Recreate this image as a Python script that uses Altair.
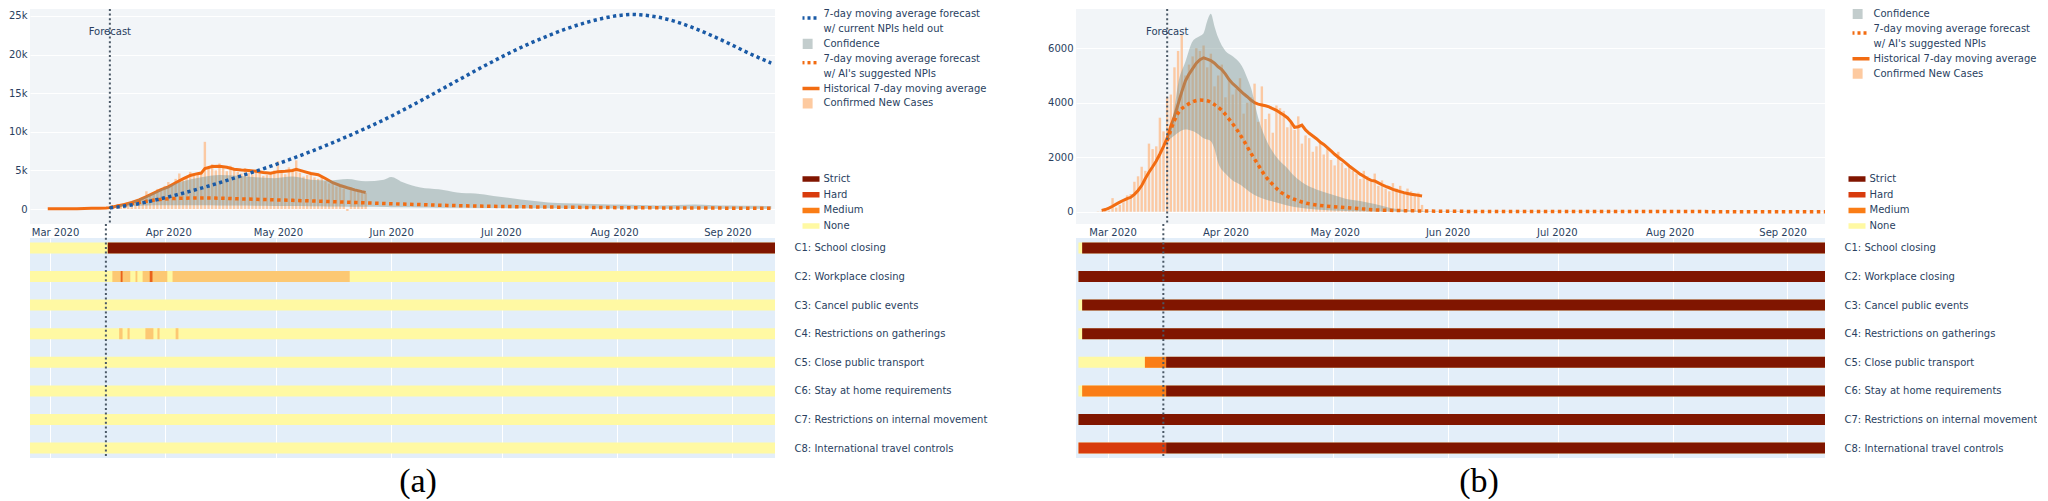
import altair as alt
import pandas as pd

FONT = "DejaVu Sans"
TXT = "#2a3f5f"
ORANGE = "#f26c12"
BLUE = "#1a5aa6"
BAND = "#7a9493"
PEACH = "#fdb987"
FC_COL = "#4a5866"
TOP_BG = "#f2f5f8"
HEAT_BG = "#e3eef9"

TOP_H = 215
HEAT_H = 220
GAP = 14

BASE = pd.Timestamp("2020-03-01")   # day 0
FORECAST_DAY = 15                   # 2020-03-16

# ---------------- panel (a) ----------------
a_bar_first = "2020-03-15"
a_bar_vals = [150, 250, 300, 450, 500, 700, 650, 900, 1100, 1300, 1500, 2300, 1800, 2100,
              2600, 2400, 3000, 3500, 3200, 3900, 4600, 3700, 4100, 4800, 4300, 4500, 4600,
              8700, 5400, 5800, 5000, 5900, 5300, 4900, 5600, 5200, 4800, 4600, 5300, 4700,
              4500, 5100, 4900, 4300, 4400, 4600, 5000, 6200, 4700, 4500, 5400, 5200, 6300,
              4700, 4200, 4400, 4800, 4100, 3900, 4200, 3600, 3300, 3500, 2900, 3100, 2600,
              -250, 2800, 2500, 2400, 2300, 2100]
a_ma_days = [-2, 0, 2, 4, 6, 8, 10, 12, 14, 15, 17, 19, 21, 23, 25, 27, 29, 31, 33, 35, 37,
             39, 40, 41, 43, 45, 47, 49, 51, 53, 55, 57, 59, 61, 63, 65, 66, 68, 70, 72, 74,
             76, 78, 80, 82, 84, 85]
a_ma_vals = [20, 25, 30, 40, 50, 70, 90, 110, 140, 180, 380, 600, 850, 1180, 1600, 2050,
             2500, 2880, 3400, 3900, 4350, 4580, 4650, 5250, 5500, 5550, 5400, 5150, 5060,
             5000, 4900, 4720, 4640, 4840, 4900, 5000, 5150, 4880, 4600, 4450, 3950, 3400,
             3050, 2750, 2480, 2250, 2150]
a_conf_days = [15, 20, 25, 30, 35, 40, 45, 50, 55, 60, 65, 70, 75, 80, 85, 90, 92, 95, 100,
               105, 110, 115, 120, 125, 130, 135, 140, 145, 150, 155, 160, 165, 170, 175,
               180, 185, 190, 196]
a_conf_hi = [200, 800, 1700, 2800, 3600, 4100, 4400, 4300, 4100, 4000, 4200, 3800, 3700,
             3900, 3600, 3800, 4150, 3500, 2800, 2550, 2150, 2000, 1700, 1400, 1100, 850,
             750, 680, 620, 580, 520, 450, 520, 600, 500, 450, 420, 400]
a_conf_lo = [150, 350, 450, 500, 500, 480, 460, 440, 420, 400, 380, 350, 330, 300, 280, 250,
             240, 220, 200, 180, 160, 140, 120, 110, 100, 90, 80, 70, 60, 55, 50, 45, 40,
             40, 35, 30, 30, 30]
a_ai_days = [15, 20, 25, 30, 35, 40, 45, 50, 55, 60, 65, 70, 75, 80, 85, 90, 95, 100, 105,
             110, 120, 130, 140, 150, 160, 170, 180, 196]
a_ai_vals = [180, 600, 1000, 1300, 1400, 1430, 1400, 1320, 1260, 1190, 1120, 1050, 970,
             880, 800, 720, 640, 570, 500, 440, 350, 280, 230, 190, 160, 140, 120, 100]
a_blue_days = [15, 20, 25, 30, 35, 40, 45, 50, 55, 60, 65, 70, 75, 80, 85, 90, 95, 100, 105,
               110, 115, 120, 125, 130, 135, 140, 145, 150, 155, 158, 160, 165, 170, 175,
               180, 185, 190, 196]
a_blue_vals = [150, 450, 900, 1450, 2050, 2700, 3400, 4150, 4900, 5700, 6550, 7450, 8400,
               9400, 10450, 11550, 12750, 14000, 15300, 16600, 17900, 19150, 20350, 21450,
               22450, 23350, 24100, 24700, 25100, 25200, 25150, 24850, 24250, 23400, 22400,
               21300, 20150, 18900]

# ---------------- panel (b) ----------------
b_bar_first = "2020-02-26"
b_bar_vals = [10, 20, 30, 40, 500, 150, 250, 350, 600, 650,
              1100, 1300, 1650, 1500, 2500, 2300, 2400, 3450, 2950, 4200,
              4300, 5300, 5900, 6500, 5000, 5400, 5700, 6000, 5900, 6100,
              5300, 5800, 4600, 5000, 5400, 4200, 4800, 4300, 4500, 4900,
              3600, 4000, 4200, 4700, 3300, 4600, 3400, 3600, 2900, 3900,
              3800, 3700, 3100, 3300, 3000, 3500, 2500, 2800, 2700, 2200,
              2400, 2600, 2100, 2300, 1900, 1700, 2200, 1800, 1600, 1700,
              1500, 1400, 1200, 1500, 1300, 1100, 1400, 950, 1150, 850,
              750, 1050, 850, 950, 650, 850, 750, 650, 700, 250]
b_ma_first = "2020-02-27"
b_ma_vals = [50, 80, 130, 200, 280, 350, 420, 480, 530, 640,
             780, 960, 1220, 1450, 1650, 1860, 2120, 2400, 2700, 3150,
             3500, 3950, 4400, 4800, 5050, 5250, 5450, 5580, 5650, 5600,
             5550, 5450, 5320, 5220, 5050, 4850, 4700, 4580, 4450, 4330,
             4220, 4100, 4000, 3950, 3920, 3890, 3850, 3780, 3720, 3630,
             3550, 3450, 3300, 3100, 3120, 3180, 3000, 2880, 2780, 2680,
             2560, 2470, 2350, 2230, 2110, 2000, 1900, 1790, 1680, 1580,
             1480, 1380, 1300, 1220, 1150, 1130, 1060, 990, 930, 880,
             820, 780, 740, 700, 670, 640, 620, 600, 580]
b_conf_days = [15, 17, 18, 20, 22, 24, 25, 26, 27, 28, 29, 31, 33, 35, 36, 37, 38, 40, 42,
               44, 46, 48, 50, 53, 56, 60, 64, 68, 72, 76, 80, 85, 90, 100, 120, 150, 196]
b_conf_hi = [2600, 3800, 4680, 5500, 6260, 6450, 6550, 7000, 7270, 6800, 6390, 5900, 5710,
             5450, 5220, 4900, 4550, 3450, 2700, 2200, 1850, 1600, 1300, 1000, 820, 640,
             480, 390, 280, 150, 70, 30, 15, 10, 5, 3, 2]
b_conf_lo = [2600, 2800, 2900, 3020, 2960, 2800, 2700, 2650, 2590, 2300, 1800, 1400, 1150,
             1000, 900, 800, 700, 550, 450, 380, 300, 230, 170, 120, 80, 50, 30, 20, 10, 5,
             3, 2, 1, 1, 0, 0, 0]
b_ai_days = [15, 16, 17, 18, 19, 20, 22, 24, 26, 28, 30, 32, 34, 36, 38, 40, 42, 44, 46, 48,
             50, 53, 56, 60, 64, 68, 72, 80, 90, 100, 120, 150, 196]
b_ai_vals = [2600, 3000, 3350, 3620, 3780, 3880, 4030, 4100, 4070, 3930, 3720, 3400, 3040,
             2620, 2150, 1720, 1300, 1000, 740, 570, 450, 320, 250, 190, 150, 110, 70, 40,
             20, 12, 8, 5, 3]

# ---------------- NPI heatmap ----------------
ROWS = ["C1: School closing", "C2: Workplace closing", "C3: Cancel public events",
        "C4: Restrictions on gatherings", "C5: Close public transport",
        "C6: Stay at home requirements", "C7: Restrictions on internal movement",
        "C8: International travel controls"]
LEVELS = ["Strict", "Hard", "Medium", "None", "Mild", "Mixed"]
LEVEL_COLORS = ["#801500", "#d83b0d", "#fa7d16", "#fff9a3", "#fcc873", "#e8621c"]
NPI_END = "2020-09-15"

a_npi_start = "2020-02-24"
a_npi_segments = [
    (0, "2020-03-16T12:00", NPI_END, "Strict"),
    (1, "2020-03-17T18:00", "2020-03-22T14:00", "Mild"),
    (1, "2020-03-20T00:00", "2020-03-20T12:00", "Mixed"),
    (1, "2020-03-24T00:00", "2020-03-24T12:00", "Mild"),
    (1, "2020-03-25T22:00", "2020-04-01T14:00", "Mild"),
    (1, "2020-03-27T20:00", "2020-03-28T14:00", "Mixed"),
    (1, "2020-04-03T00:00", "2020-05-20T20:00", "Mild"),
    (3, "2020-03-19T14:00", "2020-03-20T12:00", "Mild"),
    (3, "2020-03-21T20:00", "2020-03-22T10:00", "Mild"),
    (3, "2020-03-26T16:00", "2020-03-28T20:00", "Mild"),
    (3, "2020-03-29T22:00", "2020-03-30T12:00", "Mild"),
    (3, "2020-04-03T20:00", "2020-04-04T14:00", "Mild"),
]
b_npi_start = "2020-02-22"
b_npi_segments = [
    (0, "2020-02-23", NPI_END, "Strict"),
    (1, "2020-02-22", NPI_END, "Strict"),
    (2, "2020-02-23", NPI_END, "Strict"),
    (3, "2020-02-23", NPI_END, "Strict"),
    (4, "2020-03-11", "2020-03-16T18:00", "Medium"),
    (4, "2020-03-16T18:00", NPI_END, "Strict"),
    (5, "2020-02-23", "2020-03-16T18:00", "Medium"),
    (5, "2020-03-16T18:00", NPI_END, "Strict"),
    (6, "2020-02-22", NPI_END, "Strict"),
    (7, "2020-02-22", "2020-03-16T18:00", "Hard"),
    (7, "2020-03-16T18:00", NPI_END, "Strict"),
]

# ---------------- legends ----------------
SYM = 16                  # symbol box 4px (r = 2); paths reach beyond it
LINE = "M-6,0L6,0"        # 24px wide
LINE_LOW = "M-6,2L6,2"    # same, 4px lower (sits between the two text lines)
SQUARE = "M-2.55,-2.55L2.55,-2.55L2.55,2.55L-2.55,2.55Z"
# each legend row: key|label, symbol path, fill, stroke, dash
a_leg_keys = ["1|7-day moving average forecast", "2|w/ current NPIs held out", "3|Confidence",
              "4|7-day moving average forecast", "5|w/ AI's suggested NPIs",
              "6|Historical 7-day moving average", "7|Confirmed New Cases"]
a_leg_shapes = [LINE_LOW, LINE, SQUARE, LINE_LOW, LINE, LINE, SQUARE]
a_leg_fill = ["transparent", "transparent", "#c3cdcd", "transparent", "transparent",
              "transparent", "#fdcaa0"]
a_leg_stroke = [BLUE, "transparent", "transparent", ORANGE, "transparent", ORANGE, "transparent"]
a_leg_dash = [[3, 3], [1, 0], [1, 0], [3, 3], [1, 0], [1, 0], [1, 0]]
b_leg_keys = a_leg_keys[2:]
b_leg_shapes = a_leg_shapes[2:]
b_leg_fill = a_leg_fill[2:]
b_leg_stroke = a_leg_stroke[2:]
b_leg_dash = a_leg_dash[2:]

MONTHS = [alt.DateTime(year=2020, month=m, date=1) for m in range(3, 10)]


def by_days(days, **cols):
    d = {"date": BASE + pd.to_timedelta(days, unit="D")}
    d.update(cols)
    return pd.DataFrame(d)


def daily(first, vals):
    return pd.DataFrame({"date": pd.date_range(first, periods=len(vals), freq="D"), "v": vals})


def npi_frame(start, segments):
    recs = [{"row": r, "start": pd.Timestamp(start), "end": pd.Timestamp(NPI_END), "level": "None"}
            for r in ROWS]
    for i, s, e, lev in segments:
        recs.append({"row": ROWS[i], "start": pd.Timestamp(s), "end": pd.Timestamp(e), "level": lev})
    return pd.DataFrame(recs)


def legend_layer(keys, shapes, fills, strokes, dashes, legx):
    leg = alt.Legend(title=None, orient="none", legendX=legx, legendY=-1,
                     labelExpr="split(datum.label, '|')[1]", labelFont=FONT, labelFontSize=10,
                     labelColor=TXT, labelOffset=11, labelLimit=400, rowPadding=2.9, padding=0,
                     clipHeight=12, symbolSize=SYM, symbolStrokeWidth=3.5, symbolOpacity=1)
    ldf = pd.DataFrame({"entry": keys})
    return alt.Chart(ldf).mark_point(filled=True).encode(
        shape=alt.Shape("entry:N", scale=alt.Scale(domain=keys, range=shapes), legend=leg),
        fill=alt.Fill("entry:N", scale=alt.Scale(domain=keys, range=fills), legend=leg),
        stroke=alt.Stroke("entry:N", scale=alt.Scale(domain=keys, range=strokes), legend=leg),
        strokeDash=alt.StrokeDash("entry:N", scale=alt.Scale(domain=keys, range=dashes), legend=leg),
    ).transform_filter("false")


def make_top(bars, ma, conf, ai, blue, xdom, ydom, yvals, ylabel, width, leglayer):
    xs = alt.Scale(domain=xdom)
    ys = alt.Scale(domain=ydom, nice=False, zero=False)
    xax = alt.Axis(values=MONTHS, format="%b %Y", ticks=False, domain=False, grid=False,
                   labelPadding=3, labelFont=FONT, labelFontSize=10, labelColor=TXT)
    yax = alt.Axis(values=yvals, labelExpr=ylabel, ticks=False, domain=False, grid=True,
                   gridColor="white", gridWidth=1, labelPadding=3, labelFont=FONT,
                   labelFontSize=10, labelColor=TXT)

    def X():
        return alt.X("date:T", scale=xs, axis=xax, title=None)

    def Y(f):
        return alt.Y(f"{f}:Q", scale=ys, axis=yax, title=None)

    layers = [
        alt.Chart(bars).mark_bar(size=2.4, color=PEACH, opacity=0.75, clip=True).encode(x=X(), y=Y("v")),
        alt.Chart(ma).mark_line(color=ORANGE, strokeWidth=3, clip=True).encode(x=X(), y=Y("v")),
        alt.Chart(conf).mark_area(color=BAND, opacity=0.45, interpolate="monotone", clip=True).encode(
            x=X(), y=Y("hi"), y2="lo:Q"),
        alt.Chart(ai).mark_line(color=ORANGE, strokeWidth=3.5, strokeDash=[3.5, 3.5],
                                interpolate="monotone", clip=True).encode(x=X(), y=Y("v")),
    ]
    if blue is not None:
        layers.append(alt.Chart(blue).mark_line(color=BLUE, strokeWidth=3.5, strokeDash=[3.3, 3.3],
                                                interpolate="monotone", clip=True).encode(x=X(), y=Y("v")))
    fdf = pd.DataFrame({"date": [BASE + pd.Timedelta(days=FORECAST_DAY)]})
    layers.append(alt.Chart(fdf).mark_rule(color=FC_COL, strokeWidth=2, strokeDash=[2, 2.6]).encode(x=X()))
    layers.append(alt.Chart(fdf).mark_text(text="Forecast", font=FONT, fontSize=10, color=TXT,
                                           align="center", baseline="middle").encode(x=X(), y=alt.value(23)))
    layers.append(leglayer)
    return alt.layer(*layers).properties(width=width, height=TOP_H,
                                         view=alt.ViewBackground(fill=TOP_BG, strokeWidth=0))


def make_heat(npi, xdom, width, legx):
    xs = alt.Scale(domain=xdom)
    hax = alt.Axis(values=MONTHS, grid=True, gridColor="white", gridWidth=1, labels=False,
                   ticks=False, domain=False)
    yax = alt.Axis(orient="right", ticks=False, tickSize=0, domain=False, grid=False,
                   labelPadding=19, labelFont=FONT, labelFontSize=10, labelColor=TXT, labelLimit=400)
    hleg = alt.Legend(title=None, orient="none", legendX=legx, legendY=-65,
                      values=["Strict", "Hard", "Medium", "None"], labelFont=FONT,
                      labelFontSize=10, labelColor=TXT, labelOffset=11, rowPadding=3.7, padding=0,
                      clipHeight=12, symbolType=LINE, symbolSize=SYM, symbolStrokeWidth=5.5)
    rules = alt.Chart(npi).mark_rule(strokeWidth=11, clip=True).encode(
        x=alt.X("start:T", scale=xs, axis=hax, title=None),
        x2="end:T",
        y=alt.Y("row:N", sort=ROWS, scale=alt.Scale(type="point", padding=0.346), axis=yax, title=None),
        color=alt.Color("level:N", scale=alt.Scale(domain=LEVELS, range=LEVEL_COLORS), legend=hleg),
    )
    fdf = pd.DataFrame({"date": [BASE + pd.Timedelta(days=FORECAST_DAY)]})
    frule = alt.Chart(fdf).mark_rule(color=FC_COL, strokeWidth=2, strokeDash=[2, 2.6]).encode(
        x=alt.X("date:T", scale=xs, axis=hax, title=None), y=alt.value(-GAP), y2=alt.value(HEAT_H))
    return alt.layer(rules, frule).properties(width=width, height=HEAT_H,
                                              view=alt.ViewBackground(fill=HEAT_BG, strokeWidth=0))


def panel(top, heat, label, dx):
    t = alt.TitleParams(text=label, orient="bottom", anchor="middle", frame="group",
                        font="Liberation Serif", fontSize=34, fontWeight="normal", color="black",
                        baseline="alphabetic", offset=33, dx=dx)
    return alt.vconcat(top, heat, spacing=GAP, bounds="flush", title=t).resolve_scale(
        x="independent", color="independent")


A_W = 745
B_W = 749
a_xdom = [alt.DateTime(year=2020, month=2, date=24, hours=12, minutes=15),
          alt.DateTime(year=2020, month=9, date=12, hours=16)]
b_xdom = [alt.DateTime(year=2020, month=2, date=21, hours=8),
          alt.DateTime(year=2020, month=9, date=11, hours=7)]

LBL_K = "datum.value == 0 ? '0' : (datum.value / 1000) + 'k'"
LBL_N = "datum.value == 0 ? '0' : format(datum.value, 'd')"

a_top = make_top(
    daily(a_bar_first, a_bar_vals),
    by_days(a_ma_days, v=a_ma_vals),
    by_days(a_conf_days, hi=a_conf_hi, lo=a_conf_lo),
    by_days(a_ai_days, v=a_ai_vals),
    by_days(a_blue_days, v=a_blue_vals),
    a_xdom, [-1940, 25900], [0, 5000, 10000, 15000, 20000, 25000], LBL_K, A_W,
    legend_layer(a_leg_keys, a_leg_shapes, a_leg_fill, a_leg_stroke, a_leg_dash, A_W + 27.5),
)
a_heat = make_heat(npi_frame(a_npi_start, a_npi_segments), a_xdom, A_W, A_W + 27.5)

b_top = make_top(
    daily(b_bar_first, b_bar_vals),
    daily(b_ma_first, b_ma_vals),
    by_days(b_conf_days, hi=b_conf_hi, lo=b_conf_lo),
    by_days(b_ai_days, v=b_ai_vals),
    None,
    b_xdom, [-450, 7440], [0, 2000, 4000, 6000], LBL_N, B_W,
    legend_layer(b_leg_keys, b_leg_shapes, b_leg_fill, b_leg_stroke, b_leg_dash, B_W + 27.5),
)
b_heat = make_heat(npi_frame(b_npi_start, b_npi_segments), b_xdom, B_W, B_W + 23.5)

chart = alt.hconcat(
    panel(a_top, a_heat, "(a)", 388),
    panel(b_top, b_heat, "(b)", 403),
    spacing=A_W + 301, bounds="flush",
).resolve_scale(
    x="independent", y="independent", color="independent", fill="independent",
    stroke="independent", shape="independent", strokeDash="independent",
).properties(padding=0).configure_view(strokeWidth=0)

chart.save("out.html", embed_options={"renderer": "svg", "actions": False})
